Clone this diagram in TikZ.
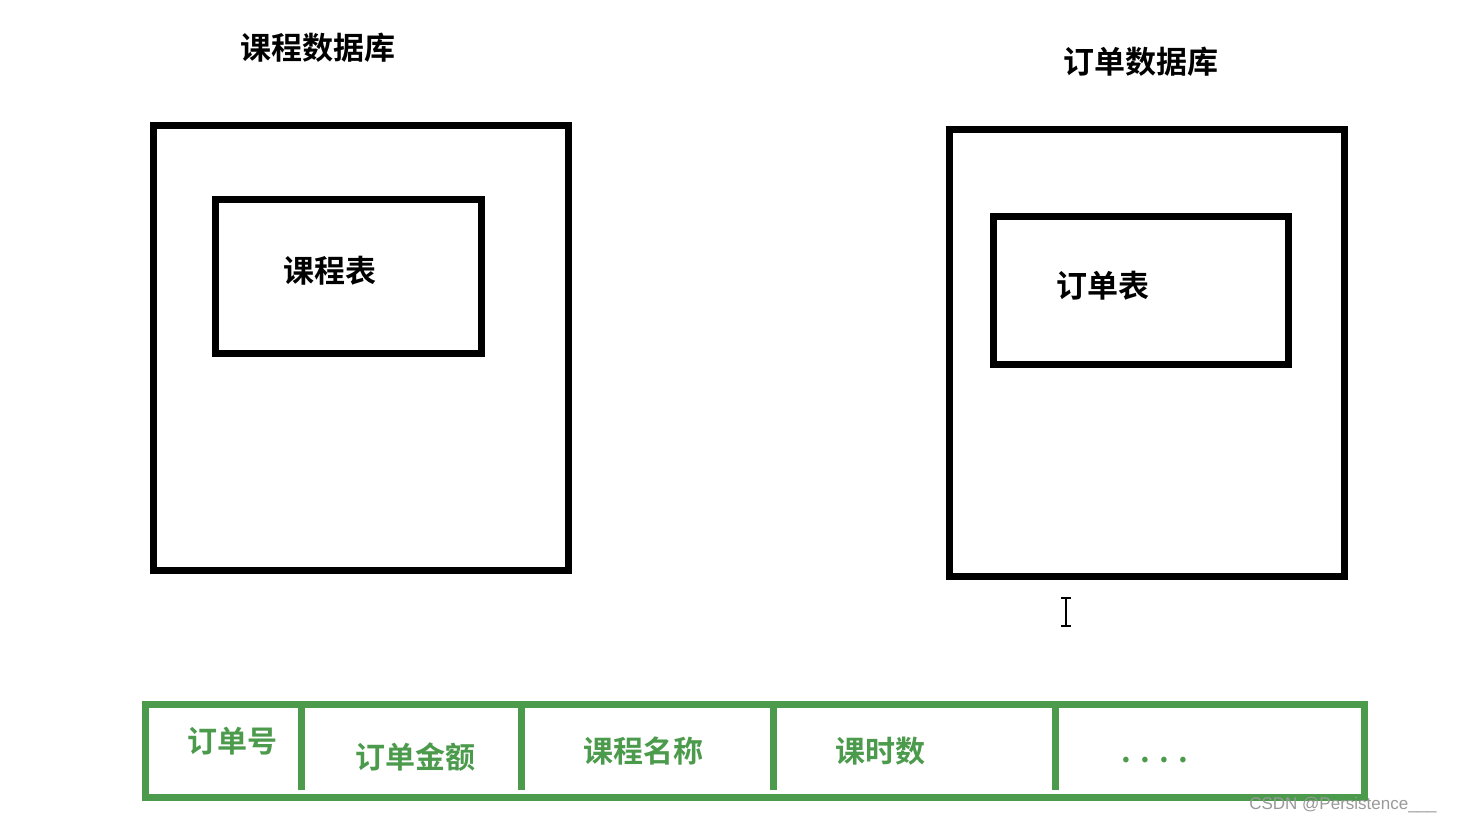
\documentclass[tikz,border=0pt]{standalone}
\usepackage{fontspec}
\setmainfont{Noto Sans CJK SC Bold}
\newfontfamily\wmfont{Liberation Sans}
\definecolor{tgreen}{HTML}{4C9A4C}
\begin{document}
\begin{tikzpicture}[x=1pt,y=-1pt,
  box/.style={draw=black,line width=7pt},
  gbox/.style={draw=tgreen,line width=7pt},
  lbl/.style={font=\fontsize{31}{31}\selectfont,inner sep=0pt},
  glbl/.style={font=\fontsize{30}{30}\selectfont,text=tgreen,inner sep=0pt}]
\useasboundingbox (0,0) rectangle (1461,824);
\draw[box] (153,126) rectangle (568,570);
\draw[box] (215,199) rectangle (481,353);
\draw[box] (949,130) rectangle (1344,576);
\draw[box] (993,216) rectangle (1288,364);
\node[lbl] (t1) at (318,48) {课程数据库};
\node[lbl] (t2) at (1141,62) {订单数据库};
\node[lbl] (k) at (330,271) {课程表};
\node[lbl] (d) at (1103,286) {订单表};
% cursor
\draw[line width=1.5pt] (1066,598) -- (1066,626) (1061,598) -- (1071,598) (1061,626) -- (1071,626);
% table
\draw[gbox] (145,704) rectangle (1364,797);
\foreach \x in {301,521,773,1055} \draw[gbox] (\x,704) -- (\x,790);
\node[glbl] (c1) at (232,741) {订单号};
\node[glbl] (c2) at (415,757) {订单金额};
\node[glbl] (c3) at (643,751) {课程名称};
\node[glbl] (c4) at (880,751) {课时数};
\node[glbl] (c5) at (1155,760) {. . . .};
\node[font=\wmfont\fontsize{17}{17}\selectfont,text=gray!80,inner sep=0pt] (wm) at (1343,805) {CSDN @Persistence\_\_\_};
\end{tikzpicture}
\end{document}
